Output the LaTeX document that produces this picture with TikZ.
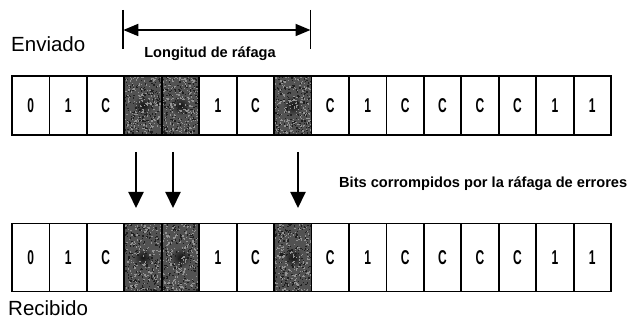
\documentclass[tikz,border=0pt]{standalone}
\usepackage{fontspec}
\usepackage{graphicx}
\setmainfont{Liberation Sans}
\usetikzlibrary{arrows.meta,calc}
\tikzset{
  bitcell/.style={draw, line width=1.8pt, minimum width=37.44pt, inner sep=0pt,
    font=\bfseries\fontsize{20}{20}\selectfont},
  sentcell/.style={bitcell, minimum height=59pt},
  recvcell/.style={bitcell, minimum height=68pt},
  burstcell/.style={fill=black!68},
  errarrow/.style={line width=2pt, -{Triangle[length=16pt,width=15pt]}},
  spanarrow/.style={line width=1.8pt,
    {Triangle[length=15pt,width=12pt]}-{Triangle[length=15pt,width=12pt]}},
  tickline/.style={line width=1.8pt},
  label/.style={inner sep=0pt, font=\fontsize{20.5}{20.5}\selectfont},
  smalllabel/.style={inner sep=0pt, font=\bfseries\fontsize{14.6}{14.6}\selectfont}
}
\newcommand\bitglyph[1]{\scalebox{0.6}[1]{#1}}
\begin{document}
\begin{tikzpicture}[x=1pt,y=-1pt]
\useasboundingbox (0,0) rectangle (638,320);
\fill[white] (0,0) rectangle (638,320);

% sent and received frames (flag 1 = bit hit by the burst)
\foreach \v/\b [count=\i from 0] in {0/0,1/0,C/0,x/1,x/1,1/0,C/0,x/1,C/0,1/0,C/0,C/0,C/0,C/0,1/0,1/0} {
  \ifnum\b=1
    \node[sentcell, burstcell] (s\i) at (12+37.44*\i+18.72, 105.5) {};
    \node[recvcell, burstcell] (r\i) at (12+37.44*\i+18.72, 257.5) {};
  \else
    \node[sentcell] (s\i) at (12+37.44*\i+18.72, 105.5) {\bitglyph{\v}};
    \node[recvcell] (r\i) at (12+37.44*\i+18.72, 257.5) {\bitglyph{\v}};
  \fi
}

% grainy texture of the corrupted bits
\pgfmathsetseed{4711}
\foreach \i/\yc/\h in {3/105.5/59,4/105.5/59,7/105.5/59,3/257.5/68,4/257.5/68,7/257.5/68} {
  \pgfmathsetmacro\xl{12+37.44*\i}
  \pgfmathsetmacro\yt{\yc-\h/2}
  \begin{scope}
    \clip (\xl,\yt) rectangle ++(37.44,\h);
    \shade[inner color=black!92, outer color=black!68] (\xl+18.72,\yc) circle (10);
    \foreach \k in {1,...,420} {
      \pgfmathsetmacro\px{\xl+37.44*rnd}
      \pgfmathsetmacro\py{\yt+\h*rnd}
      \pgfmathtruncatemacro\pc{rnd<0.55 ? 42 : 88}
      \fill[black!\pc] (\px,\py) rectangle ++(1.3,1.3);
    }
  \end{scope}
  \draw[line width=1.8pt] (\xl,\yt) rectangle ++(37.44,\h);
}

% burst length marker
\coordinate (tlt) at (123.3,10);
\coordinate (tlb) at (123.3,49);
\coordinate (trt) at (310.5,10);
\coordinate (trb) at (310.5,49);
\coordinate (bl) at (123.3,30);
\coordinate (br) at (310.5,30);
\draw[tickline] (tlt) -- (tlb);
\draw[tickline] (trt) -- (trb);
\draw[spanarrow] (bl) -- (br);

% error arrows
\coordinate (a1) at (136,152);
\coordinate (b1) at (136,208);
\coordinate (a2) at (173,152);
\coordinate (b2) at (173,208);
\coordinate (a3) at (298,152);
\coordinate (b3) at (298,208);
\draw[errarrow] (a1) -- (b1);
\draw[errarrow] (a2) -- (b2);
\draw[errarrow] (a3) -- (b3);

% texts
\node[label, anchor=base west] (env) at (11,52) {Enviado};
\node[label, anchor=base west] (rec) at (8,316) {Recibido};
\node[smalllabel, anchor=base] (len) at (210,58) {Longitud de ráfaga};
\node[smalllabel, anchor=base west] (bits) at (339,188) {Bits corrompidos por la ráfaga de errores};
\end{tikzpicture}
\end{document}
